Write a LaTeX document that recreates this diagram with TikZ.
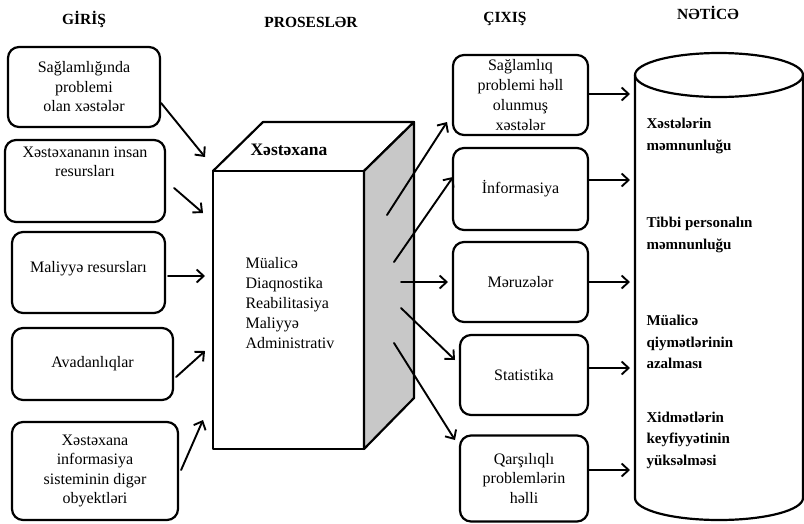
\documentclass[tikz,border=0pt]{standalone}
\usepackage{fontspec}
\setmainfont{Liberation Serif}
\usetikzlibrary{arrows.meta}
\definecolor{boz}{RGB}{200,200,200}

\begin{document}
\begin{tikzpicture}[x=1pt, y=-1pt, font=\fontsize{16}{19.5}\selectfont, line join=round, line cap=round, >={Straight Barb[length=7pt,width=13pt]},
	kutu/.style={draw, line width=2.2pt, rounded corners=11pt, align=center, inner sep=0pt},
	ox/.style={->, line width=1.9pt},
	basliq/.style={font=\fontsize{15.5}{18}\selectfont\bfseries},
	netice/.style={anchor=west, align=left, font=\fontsize{15}{21.5}\selectfont\bfseries}]
	\useasboundingbox (0,0) rectangle (804,523);
	% basliqlar
	\path
	(84,19) node[basliq] (h1) {GİRİŞ}
	(311,22) node[basliq] (h2) {PROSESLƏR}
	(505,19) node[basliq] (h3) {ÇIXIŞ}
	(708,13) node[basliq] (h4) {NƏTİCƏ}
	;
	% girisler
	\node[kutu, minimum width=152, minimum height=80] (g1) at (84,87) {Sağlamlığında\\problemi\\olan xəstələr};
	\node[kutu, minimum width=160, minimum height=82] (g2) at (85,181) {Xəstəxananın insan\\resursları\\~\\~};
	\node[kutu, minimum width=153, minimum height=81, text depth=12pt] (g3) at (88.5,272.5) {Maliyyə resursları};
	\node[kutu, minimum width=161, minimum height=72] (g4) at (92.5,364) {Avadanlıqlar};
	\node[kutu, minimum width=166, minimum height=98] (g5) at (95,471) {Xəstəxana\\informasiya\\sisteminin digər\\obyektləri};
	% xestexana
	\coordinate (A) at (213,171);
	\coordinate (B) at (364,171);
	\coordinate (C) at (364,449);
	\coordinate (D) at (213,449);
	\coordinate (E) at (263,122);
	\coordinate (F) at (414,122);
	\coordinate (G) at (414,398);
	\draw[line width=2.2pt, fill=white] (A) rectangle (C);
	\draw[line width=2.2pt] (A)--(E)--(F)--(B);
	\draw[line width=2.2pt, fill=boz] (B)--(F)--(G)--(C)--cycle;
	\node[font=\fontsize{17.5}{20}\selectfont\bfseries] (xt) at (289,150) {Xəstəxana};
	\node[anchor=west, align=left, font=\fontsize{16}{20}\selectfont] (ps) at (242,303) {Müalicə\\Diaqnostika\\Reabilitasiya\\Maliyyə\\Administrativ};
	% cixislar
	\node[kutu, minimum width=135, minimum height=80, font=\fontsize{16}{20}\selectfont] (c1) at (520.5,95) {Sağlamlıq\\problemi həll\\olunmuş\\xəstələr};
	\node[kutu, minimum width=135, minimum height=82] (c2) at (520.5,189) {İnformasiya};
	\node[kutu, minimum width=135, minimum height=80] (c3) at (520.5,282) {Məruzələr};
	\node[kutu, minimum width=128, minimum height=80] (c4) at (524,375) {Statistika};
	\node[kutu, minimum width=128, minimum height=86] (c5) at (524,478.5) {Qarşılıqlı\\problemlərin\\həlli};
	% netice
	\draw[line width=2.2pt] (719,75) ellipse[x radius=84, y radius=22];
	\draw[line width=2.2pt] (635,75) -- (635,498) arc[start angle=180, end angle=0, x radius=84, y radius=22] -- (803,75);
	\node[netice] (n1) at (643,136) {Xəstələrin\\məmnunluğu};
	\node[netice] (n2) at (643,235) {Tibbi personalın\\məmnunluğu};
	\node[netice] (n3) at (643,342) {Müalicə\\qiymətlərinin\\azalması};
	\node[netice] (n4) at (643,440) {Xidmətlərin\\keyfiyyətinin\\yüksəlməsi};
	% oxlar
	\coordinate (p1) at (205,157);
	\coordinate (p2) at (203,213);
	\coordinate (p3) at (205,276);
	\coordinate (p4) at (205,351);
	\coordinate (p5) at (203,420);
	\draw[ox] (g1.east |- 0,103) -- (p1);
	\draw[ox] ([xshift=8pt]g2.east |- 0,188) -- (p2);
	\draw[ox] ([xshift=2pt]g3.east |- p3) -- (p3);
	\draw[ox] ([xshift=2pt]g4.east |- 0,377) -- (p4);
	\draw[ox] ([xshift=2pt]g5.east |- 0,470) -- (p5);
	\coordinate (q1) at (387,215);
	\coordinate (q2) at (394,262);
	\coordinate (q3) at (401,282);
	\coordinate (q4) at (401,308);
	\coordinate (q5) at (394,343);
	\draw[ox] (q1) -- (447,122);
	\draw[ox] (q2) -- (453,177);
	\draw[ox] (q3) -- (448,282);
	\draw[ox] (q4) -- (455,360);
	\draw[ox] (q5) -- (455,440);
	\coordinate (s1) at (630,94);
	\coordinate (s2) at (630,180);
	\coordinate (s3) at (630,282);
	\coordinate (s4) at (630,368);
	\coordinate (s5) at (630,470);
	\foreach \i in {1,...,5}
	\draw[ox] (c\i.east |- s\i) -- (s\i);
\end{tikzpicture}
\end{document}
